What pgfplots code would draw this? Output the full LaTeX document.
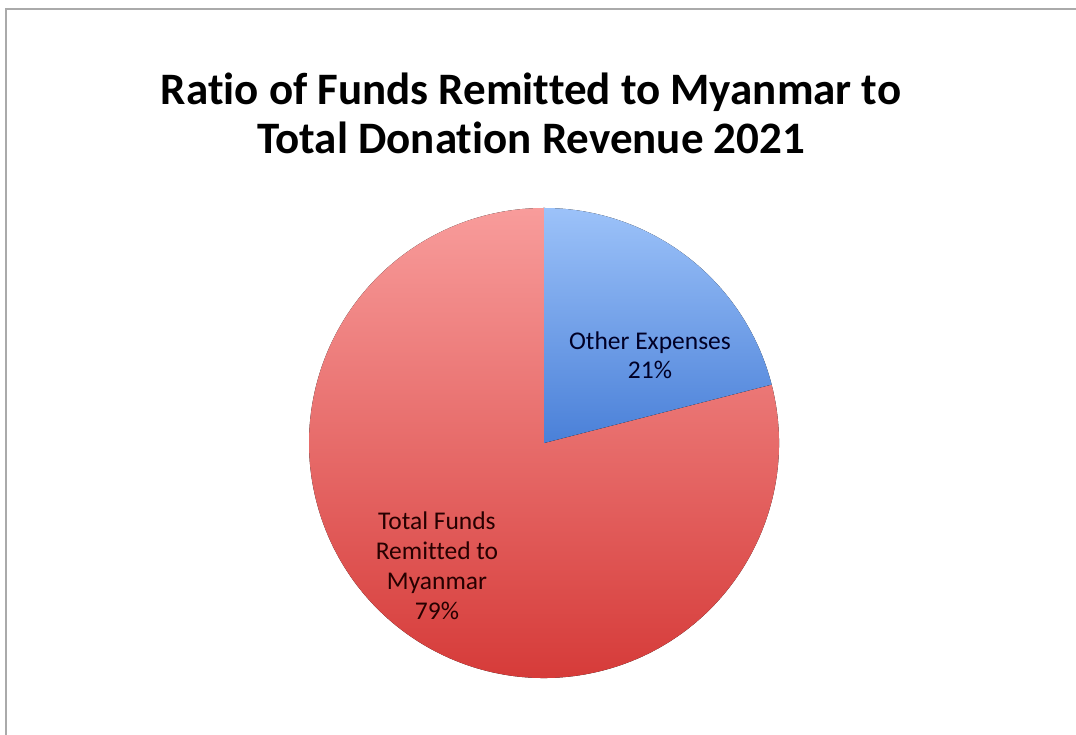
\documentclass[border=0pt]{standalone}
\usepackage{fontspec}
\setmainfont[Ligatures=CommonOff]{Carlito}
\usepackage{pgfplots}
\pgfplotsset{compat=1.18}
\usepackage{pgfplotstable}

% share of donation revenue, in percent
\pgfplotstableread{
label value
Other 21
Total 79
}\piedata

\definecolor{blueTop}{HTML}{9CC2F9}
\definecolor{blueBot}{HTML}{4A80D8}
\definecolor{redTop}{HTML}{F89C9B}
\definecolor{redBot}{HTML}{D43634}
\definecolor{frame}{HTML}{AAAAAA}

\begin{document}
\begin{tikzpicture}
\useasboundingbox (0,0) rectangle (1076pt,735pt);
\pgfplotstablegetelem{0}{value}\of\piedata
\pgfmathsetmacro\splitang{90-3.6*\pgfplotsretval}
\begin{axis}[
    at={(0pt,0pt)}, anchor=south west,
    scale only axis, x=1pt, y=1pt,
    xmin=0, xmax=1076, ymin=0, ymax=735,
    hide axis, clip=false
  ]
  % frame (cut off at right and bottom)
  \draw[frame, line width=2pt] (axis cs:5.5,0) -- (axis cs:5.5,725.5) -- (axis cs:1076,725.5);
  % slices
  \fill[top color=redTop, bottom color=redBot]
    (axis cs:544,292) -- ++(\splitang:235pt) arc[start angle=\splitang, end angle=-270, radius=235pt] -- cycle;
  \fill[top color=blueTop, bottom color=blueBot]
    (axis cs:544,292) -- ++(90:235pt) arc[start angle=90, end angle=\splitang, radius=235pt] -- cycle;
  % labels
  \node[align=center, inner sep=0pt, font=\fontsize{45}{49}\selectfont\bfseries]
    at (axis cs:531,622) {Ratio of Funds Remitted to Myanmar to\\Total Donation Revenue 2021};
  \node[align=center, inner sep=0pt, text=black!85!blue, font=\fontsize{25.5}{29}\selectfont]
    at (axis cs:650,380) {Other Expenses\\21\%};
  \node[align=center, inner sep=0pt, text=black!85!red, font=\fontsize{25.5}{30}\selectfont]
    at (axis cs:437,169) {Total Funds\\Remitted to\\Myanmar\\79\%};
\end{axis}
\end{tikzpicture}
\end{document}
